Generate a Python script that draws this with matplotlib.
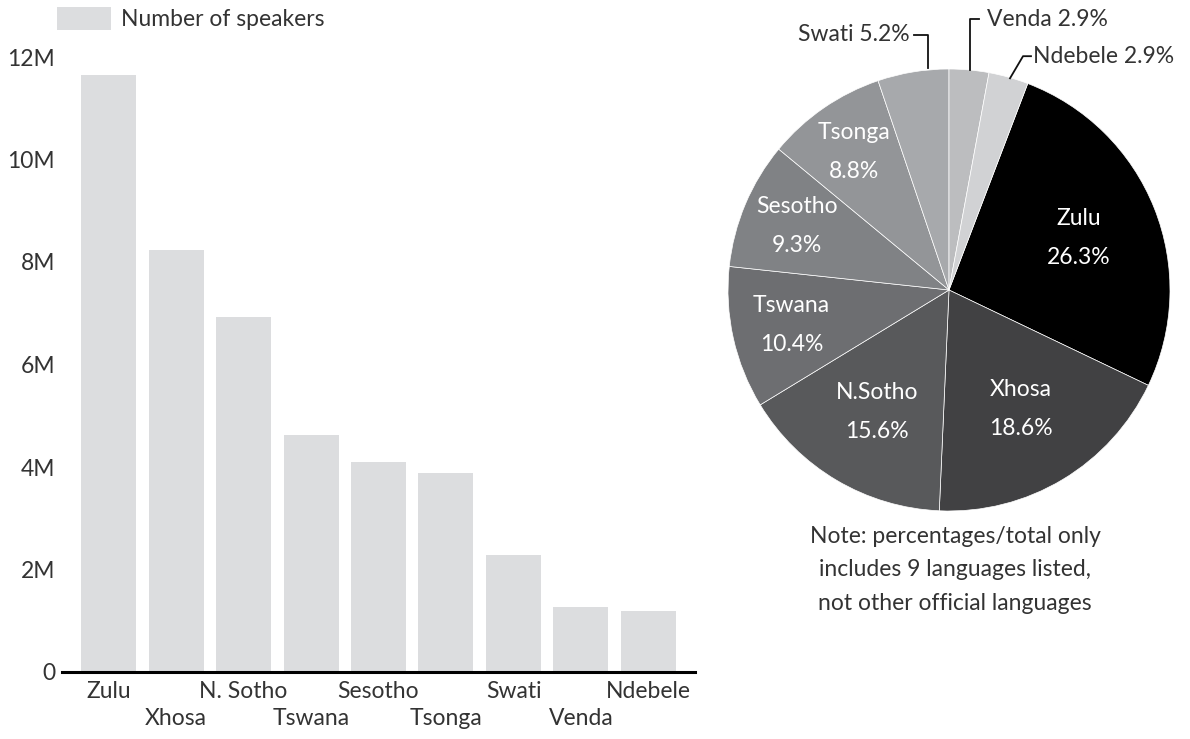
import numpy as np
import matplotlib
matplotlib.use("Agg")
from matplotlib import pyplot as plt

# data
languages = ["Zulu", "Xhosa", "N. Sotho", "Tswana", "Sesotho", "Tsonga", "Swati", "Venda", "Ndebele"]
speakers_m = [11.65, 8.23, 6.93, 4.62, 4.10, 3.88, 2.28, 1.27, 1.19]
pie_names = ["Zulu", "Xhosa", "N.Sotho", "Tswana", "Sesotho", "Tsonga", "Swati", "Venda", "Ndebele"]
pie_pct = [26.3, 18.6, 15.6, 10.4, 9.3, 8.8, 5.2, 2.9, 2.9]
pie_colors = ["#000000", "#414143", "#58595b", "#6d6e71", "#808285",
              "#939598", "#a7a9ac", "#bcbdbf", "#d1d2d4"]
y_ticks = [0, 2, 4, 6, 8, 10, 12]
y_ticklabels = ["0", "2M", "4M", "6M", "8M", "10M", "12M"]
note = "Note: percentages/total only\nincludes 9 languages listed,\nnot other official languages"

plt.rcParams["font.family"] = ["Lato", "DejaVu Sans"]
plt.rcParams["font.weight"] = "normal"
plt.rcParams["font.size"] = 16.5
text_col = "#333333"
bar_col = "#dcdddf"

W, H = 1190, 739
fig = plt.figure(figsize=(W / 100, H / 100), dpi=100)

# bar chart
ax = fig.add_axes([62 / W, (H - 672) / H, (695 - 62) / W, (672 - 57) / H])
x = np.arange(len(languages))
ax.bar(x, speakers_m, width=0.815, color=bar_col, label="Number of speakers")
ax.set_xlim(-0.69, len(languages) - 1 + 0.69)
ax.set_ylim(0, 12)
ax.set_yticks(y_ticks)
ax.set_yticklabels(y_ticklabels, color=text_col)
ax.tick_params(axis="y", length=0, pad=5)
ax.set_xticks([])
for s in ["top", "right", "left"]:
    ax.spines[s].set_visible(False)
ax.spines["bottom"].set_linewidth(2.2)
ax.spines["bottom"].set_color("#000000")
for i, name in enumerate(languages):
    off = 14.4 if i % 2 == 0 else 33.5
    ax.annotate(name, (i, 0), xytext=(0, -off), textcoords="offset points",
                ha="center", va="center", color=text_col, annotation_clip=False)
ax.legend(loc="upper left", bbox_to_anchor=(57 / W, 1 - 7 / H),
          bbox_transform=fig.transFigure, frameon=False, borderpad=0,
          handlelength=2.35, handleheight=1.15, handletextpad=0.45,
          borderaxespad=0, labelcolor=text_col)

# pie chart
cx, cy, r = 949, 290, 221
pax = fig.add_axes([(cx - r) / W, (H - cy - r) / H, 2 * r / W, 2 * r / H])
start = 90 - 360 * (pie_pct[-2] + pie_pct[-1]) / sum(pie_pct)
wedges, _ = pax.pie(pie_pct, colors=pie_colors, startangle=start, counterclock=False,
                    radius=1, wedgeprops=dict(edgecolor="white", linewidth=0.5))
pax.set_xlim(-1, 1)
pax.set_ylim(-1, 1)
pax.set_aspect("equal")
pax.axis("off")

label_r = [0.63, 0.63, 0.64, 0.73, 0.745, 0.76]
for i in range(6):
    w = wedges[i]
    ang = np.deg2rad((w.theta1 + w.theta2) / 2)
    lx, ly = label_r[i] * np.cos(ang), label_r[i] * np.sin(ang)
    pax.text(lx, ly, f"{pie_names[i]}\n{pie_pct[i]:.1f}%", ha="center", va="center",
             color="white", linespacing=2.05)

# outside labels with leader lines
lead = [
    (6, [(-0.095, 1.005), (-0.095, 1.154), (-0.158, 1.154)], (-0.176, 1.154), "right"),
    (7, [(0.095, 0.995), (0.095, 1.226), (0.136, 1.226)], (0.172, 1.226), "left"),
    (8, [(0.276, 0.958), (0.335, 1.058), (0.371, 1.058)], (0.380, 1.058), "left"),
]
for i, pts, tpos, ha in lead:
    xs, ys = zip(*pts)
    pax.plot(xs, ys, color="#111111", lw=1.3, clip_on=False)
    pax.text(tpos[0], tpos[1], f"{pie_names[i]} {pie_pct[i]:.1f}%", ha=ha, va="center",
             color=text_col, clip_on=False)

fig.text(955 / W, 1 - 570 / H, note, ha="center", va="center", color=text_col,
         linespacing=1.72)

fig.savefig("out.png", dpi=100)
